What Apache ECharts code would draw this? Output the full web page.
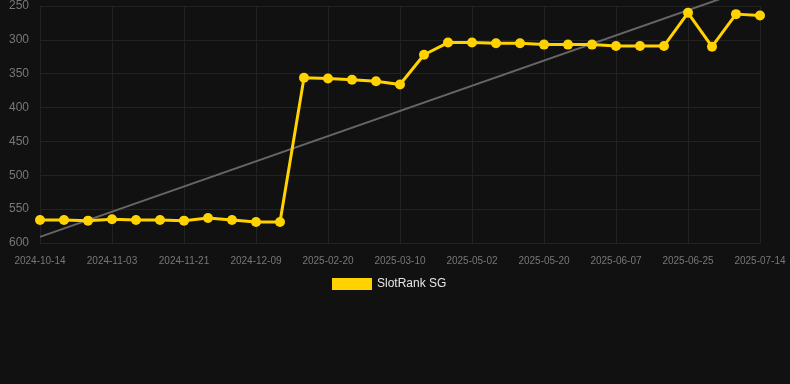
<!DOCTYPE html>
<html><head><meta charset="utf-8">
<script src="https://cdn.jsdelivr.net/npm/echarts@6/dist/echarts.min.js"></script>
<style>html,body{margin:0;padding:0;background:#111111;}#c{width:790px;height:384px;}</style>
</head><body><div id="c"></div>
<script>
const categories = ['2024-10-14','2024-10-20','2024-10-27','2024-11-03','2024-11-09','2024-11-15','2024-11-21','2024-11-27','2024-12-03','2024-12-09','2024-12-15','2025-02-14','2025-02-20','2025-02-26','2025-03-04','2025-03-10','2025-04-20','2025-04-26','2025-05-02','2025-05-08','2025-05-14','2025-05-20','2025-05-26','2025-06-01','2025-06-07','2025-06-13','2025-06-19','2025-06-25','2025-07-01','2025-07-07','2025-07-14'];
const rankValues = [566,566,567,565,566,566,567,563,566,569,569,356,357,359,361,366,322,304,304,305,305,307,307,307,309,309,309,260,310,262,264];
const trendStart = 591;
const trendEnd = 219;
const yTicks = {min:250, max:600, step:50};
const seriesName = 'SlotRank SG';

const trendData = categories.map((c,i)=> i===0 ? trendStart : (i===categories.length-1 ? trendEnd : null));

const chart = echarts.init(document.getElementById('c'));
chart.setOption({
  backgroundColor:'#111111',
  animation:false,
  textStyle:{fontFamily:'Liberation Sans, Arial, sans-serif'},
  grid:{left:40,right:30,top:6,bottom:141,containLabel:false},
  legend:{
    data:[{name:seriesName, icon:'rect'}],
    left:327, top:273, itemWidth:40, itemHeight:12, itemGap:10,
    textStyle:{color:'#e6e6e6', fontSize:12}
  },
  xAxis:{
    type:'category', data:categories, boundaryGap:false,
    axisLine:{show:false}, axisTick:{show:false},
    axisLabel:{color:'#777', fontSize:10, interval:2, margin:13},
    splitLine:{show:true, interval:2, lineStyle:{color:'#222222', width:1}}
  },
  yAxis:{
    type:'value', inverse:true, min:yTicks.min, max:yTicks.max, interval:yTicks.step,
    axisLine:{show:false}, axisTick:{show:false},
    axisLabel:{color:'#777', fontSize:12, margin:11},
    splitLine:{show:true, lineStyle:{color:'#222222', width:1}}
  },
  series:[
    {
      name:'trend', type:'line', data:trendData, connectNulls:true, clip:false,
      symbol:'none', silent:true,
      lineStyle:{color:'#666666', width:2}, z:1
    },
    {
      name:seriesName, type:'line', data:rankValues,
      symbol:'circle', symbolSize:10,
      itemStyle:{color:'#FFD200'},
      lineStyle:{color:'#FFD200', width:3}, z:3
    }
  ]
});
</script></body></html>
